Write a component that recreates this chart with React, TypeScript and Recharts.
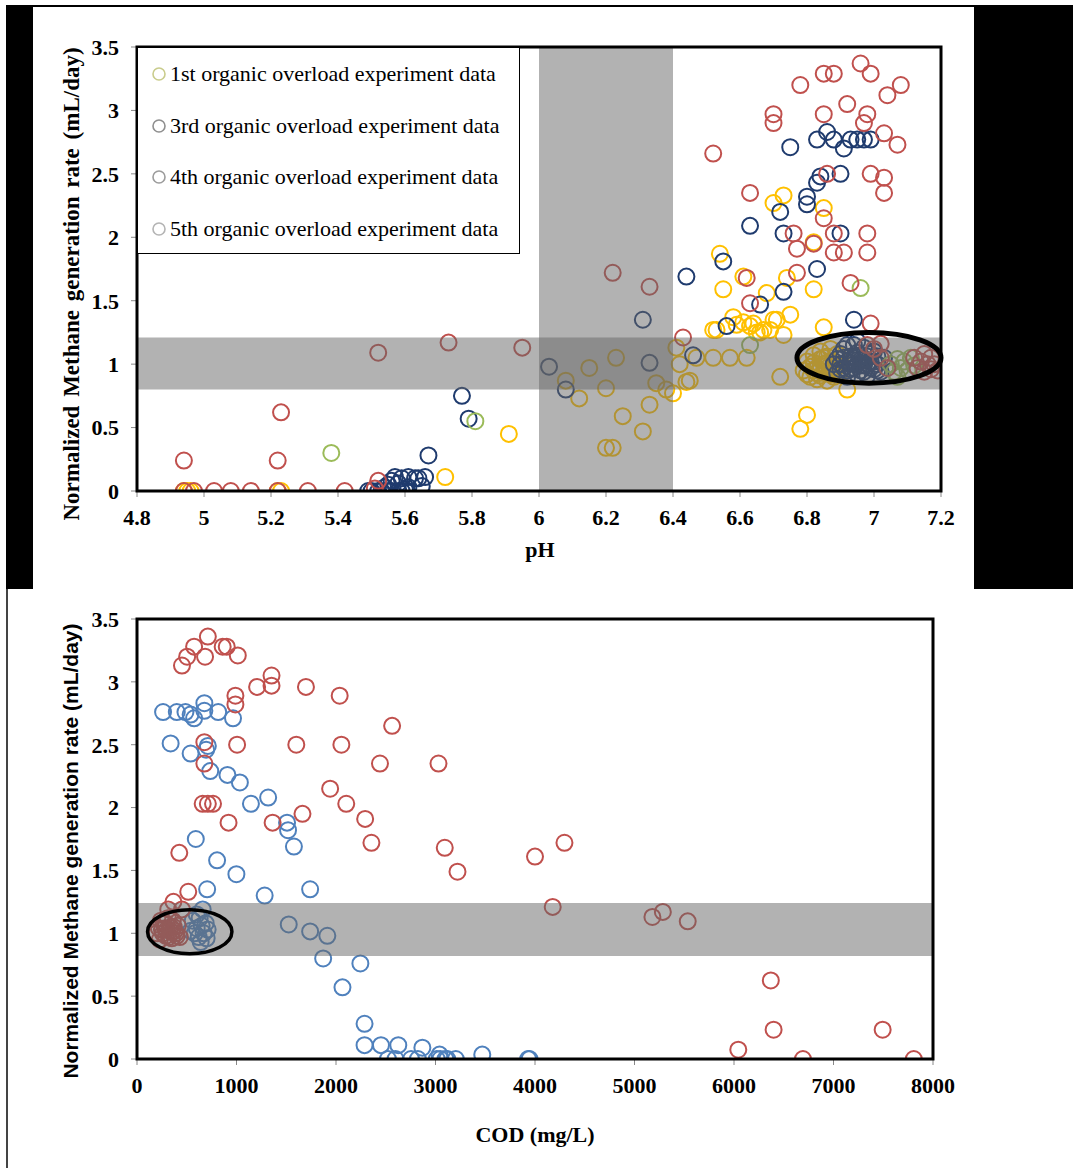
import React from "react";
import { ScatterChart, Scatter, XAxis, YAxis, ReferenceArea } from "recharts";

// ---- top chart: pH vs normalized methane rate ----
const phTicks = [4.8, 5, 5.2, 5.4, 5.6, 5.8, 6, 6.2, 6.4, 6.6, 6.8, 7, 7.2];
const rateTicks = [0, 0.5, 1, 1.5, 2, 2.5, 3, 3.5];
const codTicks = [0, 1000, 2000, 3000, 4000, 5000, 6000, 7000, 8000];

const legendLabels = [
  "1st organic overload experiment data",
  "3rd organic overload experiment data",
  "4th organic overload experiment data",
  "5th organic overload experiment data",
];

const firstRun = [
  [4.94, 0], [4.95, 0], [4.96, 0], [5.22, 0], [5.23, 0], [5.72, 0.11], [5.91, 0.45],
  [6.08, 0.87], [6.12, 0.73], [6.15, 0.97], [6.2, 0.81], [6.23, 1.05], [6.25, 0.59],
  [6.31, 0.47], [6.33, 0.68], [6.35, 0.85], [6.38, 0.8], [6.2, 0.34], [6.22, 0.34],
  [6.4, 0.77], [6.41, 1.13], [6.42, 1.0], [6.44, 0.86], [6.45, 0.87], [6.47, 1.05],
  [6.52, 1.05], [6.57, 1.05], [6.52, 1.27], [6.53, 1.27], [6.55, 1.59], [6.54, 1.87],
  [6.58, 1.37], [6.59, 1.31], [6.61, 1.33], [6.61, 1.69], [6.63, 1.3], [6.64, 1.32],
  [6.65, 1.25], [6.66, 1.25], [6.67, 1.27], [6.68, 1.56], [6.69, 1.27], [6.7, 1.35],
  [6.71, 1.35], [6.72, 0.9], [6.73, 1.23], [6.74, 1.68], [6.75, 1.39], [6.7, 2.27],
  [6.73, 2.33], [6.82, 1.96], [6.82, 1.59], [6.85, 2.23], [6.85, 1.29], [6.8, 0.6],
  [6.78, 0.49], [6.92, 0.8], [6.62, 1.05],
  [6.79, 0.95], [6.8, 1.02], [6.81, 0.9], [6.82, 1.07], [6.83, 0.97], [6.83, 0.88],
  [6.84, 1.04], [6.84, 1.1], [6.85, 0.93], [6.85, 1.0], [6.86, 1.06], [6.86, 0.87],
  [6.87, 0.96], [6.87, 1.12], [6.88, 1.02], [6.88, 0.9], [6.89, 0.98], [6.89, 1.08],
  [6.9, 0.94], [6.9, 1.04], [6.81, 0.98], [6.8, 0.92], [6.82, 1.01], [6.83, 0.93],
  [6.84, 0.99], [6.85, 1.05], [6.86, 0.97], [6.86, 1.01], [6.87, 0.92], [6.88, 0.96],
  [6.82, 0.95], [6.84, 0.91],
];

const thirdRun = [
  [5.49, 0], [5.5, 0], [5.52, 0], [5.53, 0], [5.55, 0], [5.56, 0], [5.58, 0], [5.59, 0],
  [5.6, 0.01], [5.55, 0.05], [5.56, 0.08], [5.57, 0.11], [5.58, 0.06], [5.59, 0.1],
  [5.61, 0.11], [5.61, 0.03], [5.63, 0.1], [5.64, 0.1], [5.65, 0.04], [5.66, 0.11],
  [5.67, 0.28], [5.54, 0.03], [5.77, 0.75], [5.79, 0.57],
  [6.03, 0.98], [6.08, 0.8], [6.31, 1.35], [6.33, 1.01], [6.44, 1.69], [6.46, 1.07],
  [6.55, 1.81], [6.56, 1.3], [6.63, 2.09], [6.66, 1.47], [6.72, 2.2], [6.73, 2.03],
  [6.73, 1.57], [6.75, 2.71], [6.8, 2.26], [6.8, 2.32], [6.83, 1.75], [6.83, 2.43],
  [6.84, 2.48], [6.83, 2.77], [6.86, 2.83], [6.88, 2.77], [6.9, 2.5], [6.9, 2.03],
  [6.91, 2.7], [6.93, 2.77], [6.95, 2.77], [6.97, 2.77], [6.99, 2.77], [6.94, 1.35],
  [6.88, 1.0], [6.89, 0.93], [6.9, 1.08], [6.91, 0.97], [6.91, 1.12], [6.92, 1.02],
  [6.92, 0.9], [6.93, 1.06], [6.93, 0.96], [6.94, 1.15], [6.94, 1.0], [6.95, 0.92],
  [6.95, 1.09], [6.96, 1.03], [6.96, 0.95], [6.97, 1.13], [6.97, 0.99], [6.98, 1.06],
  [6.98, 0.91], [6.99, 1.02], [7.0, 0.96], [7.0, 1.1], [7.01, 1.0], [7.02, 0.94],
  [7.03, 1.05], [6.95, 1.18], [6.92, 1.15], [6.9, 1.0], [6.91, 1.05], [6.92, 0.95],
  [6.93, 1.01], [6.94, 0.97], [6.94, 1.05], [6.95, 1.0], [6.96, 1.07], [6.96, 0.99],
  [6.97, 0.94], [6.97, 1.04], [6.98, 1.0], [6.99, 0.97], [6.99, 1.08], [7.0, 1.02],
  [7.01, 0.95], [7.01, 1.06], [6.89, 1.04], [6.9, 0.96],
];

const fourthRun = [
  [5.38, 0.3], [5.81, 0.55], [6.96, 1.6], [6.63, 1.15],
  [7.05, 1.0], [7.06, 0.94], [7.07, 1.04], [7.08, 0.97], [7.09, 1.02], [7.1, 0.95],
  [7.11, 1.05], [7.12, 0.99], [7.07, 0.9],
];

const fifthRun = [
  [4.94, 0], [4.97, 0], [5.03, 0], [5.08, 0], [5.14, 0], [5.22, 0], [5.31, 0], [5.42, 0],
  [5.52, 0.08], [5.51, 0.02], [4.94, 0.24], [5.22, 0.24], [5.23, 0.62], [5.52, 1.09],
  [5.73, 1.17], [5.95, 1.13], [6.22, 1.72], [6.33, 1.61], [6.43, 1.21], [6.52, 2.66],
  [6.96, 3.37], [6.99, 3.29], [6.85, 3.29], [6.88, 3.29], [6.78, 3.2], [7.08, 3.2],
  [7.04, 3.12], [6.92, 3.05], [6.7, 2.97], [6.7, 2.9], [6.85, 2.97], [6.98, 2.97],
  [6.97, 2.9], [7.03, 2.82], [7.07, 2.73], [6.99, 2.5], [7.03, 2.47], [7.03, 2.35],
  [6.86, 2.5], [6.63, 2.35], [6.85, 2.15], [6.76, 2.03], [6.77, 1.91], [6.82, 1.95],
  [6.88, 2.03], [6.88, 1.88], [6.91, 1.88], [6.98, 2.03], [6.98, 1.88], [6.62, 1.68],
  [6.77, 1.72], [6.93, 1.64], [6.63, 1.48], [6.99, 1.32], [7.02, 1.16],
  [7.12, 1.05], [7.13, 0.97], [7.14, 1.02], [7.15, 0.94], [7.15, 1.08], [7.16, 1.0],
  [7.17, 0.96], [7.17, 1.05], [7.18, 1.0], [7.19, 0.95], [7.0, 1.12], [7.02, 1.05],
  [6.98, 1.15], [7.04, 0.97],
];

// ---- bottom chart: COD vs normalized methane rate ----
const codBlue = [
  [262, 2.76], [400, 2.76], [487, 2.76], [539, 2.74], [574, 2.71], [677, 2.83],
  [677, 2.77], [816, 2.76], [965, 2.71], [338, 2.51], [539, 2.43], [712, 2.49],
  [695, 2.46], [736, 2.29], [909, 2.26], [1034, 2.2], [1145, 2.03], [1318, 2.08],
  [591, 1.75], [805, 1.58], [999, 1.47], [1508, 1.88], [1518, 1.82], [1577, 1.69],
  [705, 1.35], [1283, 1.3], [1740, 1.35], [660, 1.19], [1525, 1.07], [1740, 1.015],
  [1913, 0.98], [1871, 0.8], [2245, 0.76], [2065, 0.57], [2287, 0.28], [2287, 0.11],
  [2452, 0.11], [2626, 0.11], [2868, 0.09], [3041, 0.035], [3470, 0.035], [2522, 0],
  [2598, 0], [2754, 0], [2823, 0], [3013, 0], [3048, 0], [3100, 0], [3118, 0],
  [3204, 0], [3931, 0], [3945, 0],
  [560, 1.1], [580, 1.0], [600, 1.04], [620, 0.97], [630, 1.12], [650, 1.06],
  [670, 1.0], [690, 1.08], [700, 0.96], [710, 1.03], [600, 1.15], [640, 0.93], [540, 1.02],
];

const codRed = [
  [452, 3.13], [504, 3.2], [574, 3.28], [684, 3.2], [712, 3.36], [861, 3.28], [902, 3.28],
  [1013, 3.21], [989, 2.89], [989, 2.82], [1207, 2.96], [1352, 3.05], [1352, 2.97],
  [1698, 2.96], [2037, 2.89], [2564, 2.65], [1006, 2.5], [1601, 2.5], [2054, 2.5],
  [2442, 2.35], [3030, 2.35], [677, 2.52], [677, 2.35], [1941, 2.15], [2103, 2.03],
  [2293, 1.91], [2356, 1.72], [3093, 1.68], [3221, 1.49], [4000, 1.61], [4296, 1.72],
  [920, 1.88], [1363, 1.88], [1663, 1.95], [660, 2.03], [712, 2.03], [764, 2.03],
  [425, 1.64], [515, 1.33], [366, 1.25], [314, 1.19], [452, 1.19], [4178, 1.21],
  [5180, 1.13], [5285, 1.17], [5535, 1.095], [6370, 0.625], [6398, 0.233], [7494, 0.233],
  [6043, 0.074], [6693, 0], [7807, 0],
  [200, 1.0], [230, 0.95], [250, 1.03], [270, 1.08], [290, 0.98], [310, 1.12],
  [330, 1.02], [350, 0.96], [370, 1.05], [390, 1.0], [410, 1.06], [430, 0.97],
  [280, 1.04], [360, 1.1], [240, 1.1], [260, 1.0], [300, 1.03], [320, 0.97],
  [340, 1.05], [380, 1.02], [400, 0.98], [220, 1.04], [290, 1.08], [350, 1.01],
];

// shaded bands and circled clusters
const phBand = [6.0, 6.4];
const topRateBand = [0.8, 1.21];
const topCluster = { x: [6.77, 7.2], y: [0.85, 1.25] };
const bottomRateBand = [0.82, 1.24];
const bottomCluster = { x: [106, 954], y: [0.838, 1.188] };

const YELLOW = "#FFC000";
const NAVY = "#1F3B6E";
const GREEN = "#9BBB59";
const RED = "#C0504D";
const BLUE = "#4F81BD";

const SERIF = '"Liberation Serif", "Times New Roman", serif';
const SANS = '"Liberation Sans", Arial, sans-serif';

const toPts = (rows: number[][]) => rows.map(([x, y]) => ({ x, y }));

const ring = (color: string) => (props: any) => (
  <circle cx={props.cx} cy={props.cy} r={8} fill="none" stroke={color} strokeWidth={2} />
);

const ellipseShape = (sw: number) => (props: any) => {
  const { x, y, width, height } = props;
  return (
    <ellipse
      cx={x + width / 2}
      cy={y + height / 2}
      rx={Math.abs(width) / 2}
      ry={Math.abs(height) / 2}
      fill="none"
      stroke="#000"
      strokeWidth={sw}
    />
  );
};

const tickStyle = { fill: "#000", fontSize: 22, fontWeight: "bold", fontFamily: SERIF };

const RotLabel = ({ x, y, text, font, size, spacing }: any) => (
  <div
    style={{
      position: "absolute",
      left: x,
      top: y,
      transform: "translate(-50%, -50%) rotate(-90deg)",
      whiteSpace: "nowrap",
      fontFamily: font,
      fontWeight: "bold",
      fontSize: size,
      wordSpacing: spacing,
      color: "#000",
    }}
  >
    {text}
  </div>
);

const legendColors = ["#c9cc8c", "#8f8f8f", "#9c9c9c", "#b4b4b4"];

export default function App() {
  return (
    <div style={{ position: "absolute", left: 0, top: 0, width: 1073, height: 1168, background: "#fff" }}>
      {/* top figure frame */}
      <div style={{ position: "absolute", left: 6, top: 5, width: 1067, height: 2, background: "#000" }} />
      <div style={{ position: "absolute", left: 6, top: 6, width: 27, height: 583, background: "#000" }} />
      <div style={{ position: "absolute", left: 974, top: 6, width: 99, height: 583, background: "#000" }} />
      {/* bottom figure frame */}
      <div style={{ position: "absolute", left: 6, top: 589, width: 1.5, height: 579, background: "#444" }} />

      <div style={{ position: "absolute", left: 33, top: 7 }}>
        <ScatterChart width={941} height={582} margin={{ top: 40, right: 33, left: 44, bottom: 58 }}>
          <XAxis
            type="number"
            dataKey="x"
            domain={[4.8, 7.2]}
            ticks={phTicks}
            interval={0}
            allowDataOverflow
            axisLine={{ stroke: "#000", strokeWidth: 2 }}
            tickLine={{ stroke: "#888" }}
            tickSize={6}
            tickMargin={12}
            tick={tickStyle}
            height={40}
          />
          <YAxis
            type="number"
            dataKey="y"
            domain={[0, 3.5]}
            ticks={rateTicks}
            interval={0}
            allowDataOverflow
            axisLine={{ stroke: "#000", strokeWidth: 2 }}
            tickLine={{ stroke: "#888" }}
            tickSize={6}
            tickMargin={12}
            tick={tickStyle}
            width={60}
          />
          <Scatter data={toPts(firstRun)} shape={ring(YELLOW)} isAnimationActive={false} />
          <Scatter data={toPts(thirdRun)} shape={ring(NAVY)} isAnimationActive={false} />
          <Scatter data={toPts(fourthRun)} shape={ring(GREEN)} isAnimationActive={false} />
          <Scatter data={toPts(fifthRun)} shape={ring(RED)} isAnimationActive={false} />
          <ReferenceArea x1={phBand[0]} x2={phBand[1]} y1={0} y2={3.5} fill="#666" fillOpacity={0.5} stroke="none" zIndex={700} />
          <ReferenceArea x1={4.8} x2={7.2} y1={topRateBand[0]} y2={topRateBand[1]} fill="#666" fillOpacity={0.5} stroke="none" zIndex={700} />
          <ReferenceArea
            x1={topCluster.x[0]}
            x2={topCluster.x[1]}
            y1={topCluster.y[0]}
            y2={topCluster.y[1]}
            shape={ellipseShape(5)}
            ifOverflow="visible"
            zIndex={800}
          />
          <ReferenceArea x1={4.8} x2={7.2} y1={0} y2={3.5} fill="none" stroke="#000" strokeWidth={3} fillOpacity={0} zIndex={800} />
        </ScatterChart>
      </div>

      {/* legend of the top chart */}
      <div
        style={{
          position: "absolute",
          left: 137,
          top: 47,
          width: 381,
          height: 205,
          border: "1.5px solid #000",
          background: "#fff",
          fontFamily: SERIF,
          fontSize: 22,
          color: "#000",
        }}
      >
        {legendLabels.map((label, i) => (
          <div
            key={label}
            style={{ position: "absolute", left: 12, top: 12 + i * 51.7, height: 28, display: "flex", alignItems: "center", whiteSpace: "nowrap" }}
          >
            <svg width={18} height={18} style={{ marginRight: 2 }}>
              <circle cx={9} cy={9} r={6} fill="none" stroke={legendColors[i]} strokeWidth={1.6} />
            </svg>
            {label}
          </div>
        ))}
      </div>

      <RotLabel x={72} y={284} text="Normalized Methane generation rate (mL/day)" font={SERIF} size={23} spacing={3} />
      <div style={{ position: "absolute", left: 540, top: 550, transform: "translate(-50%, -50%)", fontFamily: SERIF, fontWeight: "bold", fontSize: 22 }}>
        pH
      </div>

      <div style={{ position: "absolute", left: 7, top: 590 }}>
        <ScatterChart width={964} height={578} margin={{ top: 29, right: 38, left: 70, bottom: 69 }}>
          <XAxis
            type="number"
            dataKey="x"
            domain={[0, 8000]}
            ticks={codTicks}
            interval={0}
            allowDataOverflow
            axisLine={{ stroke: "#000", strokeWidth: 2 }}
            tickLine={{ stroke: "#888" }}
            tickSize={6}
            tickMargin={12}
            tick={tickStyle}
            height={40}
          />
          <YAxis
            type="number"
            dataKey="y"
            domain={[0, 3.5]}
            ticks={rateTicks}
            interval={0}
            allowDataOverflow
            axisLine={{ stroke: "#000", strokeWidth: 2 }}
            tickLine={{ stroke: "#888" }}
            tickSize={6}
            tickMargin={12}
            tick={tickStyle}
            width={60}
          />
          <Scatter data={toPts(codBlue)} shape={ring(BLUE)} isAnimationActive={false} />
          <Scatter data={toPts(codRed)} shape={ring(RED)} isAnimationActive={false} />
          <ReferenceArea x1={0} x2={8000} y1={bottomRateBand[0]} y2={bottomRateBand[1]} fill="#666" fillOpacity={0.5} stroke="none" zIndex={700} />
          <ReferenceArea
            x1={bottomCluster.x[0]}
            x2={bottomCluster.x[1]}
            y1={bottomCluster.y[0]}
            y2={bottomCluster.y[1]}
            shape={ellipseShape(3.5)}
            ifOverflow="visible"
            zIndex={800}
          />
          <ReferenceArea x1={0} x2={8000} y1={0} y2={3.5} fill="none" stroke="#000" strokeWidth={3} fillOpacity={0} zIndex={800} />
        </ScatterChart>
      </div>

      <RotLabel x={71} y={851} text="Normalized Methane generation rate (mL/day)" font={SANS} size={21} spacing={0} />
      <div style={{ position: "absolute", left: 535, top: 1135, transform: "translate(-50%, -50%)", fontFamily: SERIF, fontWeight: "bold", fontSize: 22, whiteSpace: "nowrap" }}>
        COD (mg/L)
      </div>
    </div>
  );
}
